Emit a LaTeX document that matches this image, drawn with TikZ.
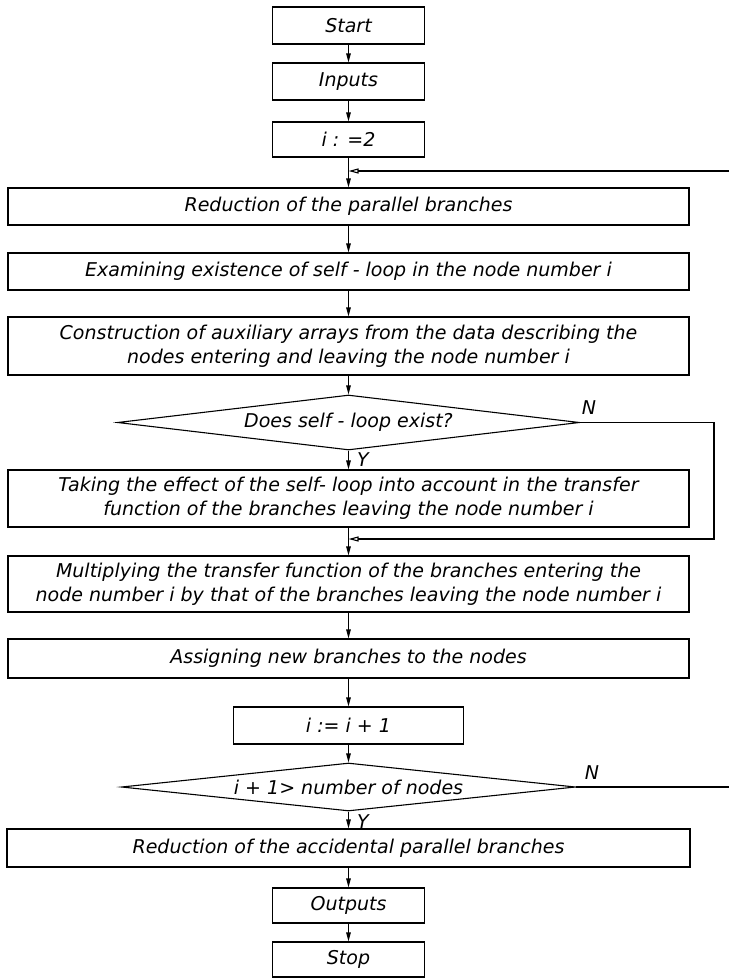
\documentclass[tikz,border=0pt]{standalone}
\usepackage{fontspec}
\setmainfont{DejaVu Sans}[ItalicFont={DejaVu Sans Oblique}]
\usetikzlibrary{shapes.geometric,arrows.meta}
\begin{document}
\begin{tikzpicture}[x=1pt, y=-1pt, line width=1.1pt,
        every node/.style = {font=\fontsize{19}{24}\selectfont\itshape, inner sep=0pt},
        small/.style = {draw, rectangle, minimum width=152pt, minimum height=37pt},
        wide/.style = {draw, rectangle, minimum width=681pt, minimum height=37pt, align=center},
        test/.style = {draw, diamond, aspect=8.4, minimum width=462pt, minimum height=55pt},
        flow/.style = {-{Triangle[length=9pt, width=4.5pt]}},
        merge/.style = {-{Triangle[open, length=10pt, width=5pt]}}]
        \useasboundingbox (0, 0) rectangle (729, 978);
        % main column
        \node[small] (start) at (348.5, 25.5) {Start};
        \node[small] (inputs) at (348.5, 81.5) {Inputs};
        \node[small, minimum height=35pt] (init) at (348.5, 139.5) {i : =2};
        \node[wide] (red) at (348.5, 206.5) {Reduction of the parallel branches};
        \node[wide] (exam) at (348.5, 271.5) {Examining existence of self - loop in the node number i};
        \node[wide, minimum height=58pt] (constr) at (348.5, 346) {Construction of auxiliary arrays from the data describing the\\ nodes entering and leaving the node number i};
        \node[test] (loopq) at (348.5, 422.5) {Does self - loop exist?};
        \node[wide, minimum height=57pt] (take) at (348.5, 498.5) {Taking the effect of the self- loop into account in the transfer\\ function of the branches leaving the node number i};
        \node[wide, minimum height=56pt] (mult) at (348.5, 584) {Multiplying the transfer function of the branches entering the\\ node number i by that of the branches leaving the node number i};
        \node[wide, minimum height=39pt] (assign) at (348.5, 658.5) {Assigning new branches to the nodes};
        \node[small, minimum width=230pt] (incr) at (348.5, 725.5) {i :=  i + 1};
        \node[test, minimum width=454pt, minimum height=48pt] (endq) at (348.5, 787) {i + 1> number of nodes};
        \node[wide, minimum width=683pt, minimum height=38pt] (redacc) at (348.5, 848) {Reduction of the accidental parallel branches};
        \node[small, minimum height=35pt] (outputs) at (348.5, 905.5) {Outputs};
        \node[small, minimum height=35pt] (stop) at (348.5, 959.5) {Stop};
        % answers
        \node (n1) at (589, 408) {N};
        \node (y1) at (363, 460) {Y};
        \node (n2) at (592, 773) {N};
        \node (y2) at (363, 822) {Y};
        % junctions
        \coordinate (back) at (729, 171);
        \coordinate (j1) at (348.5, 171);
        \coordinate (side) at (714, 539);
        \coordinate (j2) at (348.5, 539);
        \coordinate (out) at (729, 787);
        \foreach \a/\b in {start/inputs, inputs/init, init/red, red/exam, exam/constr,
                constr/loopq, loopq/take, take/mult, mult/assign, assign/incr,
                incr/endq, endq/redacc, redacc/outputs, outputs/stop}{
            \draw[flow] (\a) -- (\b);
        }
        \draw[merge] (back) -- (j1);
        \draw[merge] (loopq.east) -| (side) -- (j2);
        \draw (endq.east) -- (out);
    \end{tikzpicture}
\end{document}
